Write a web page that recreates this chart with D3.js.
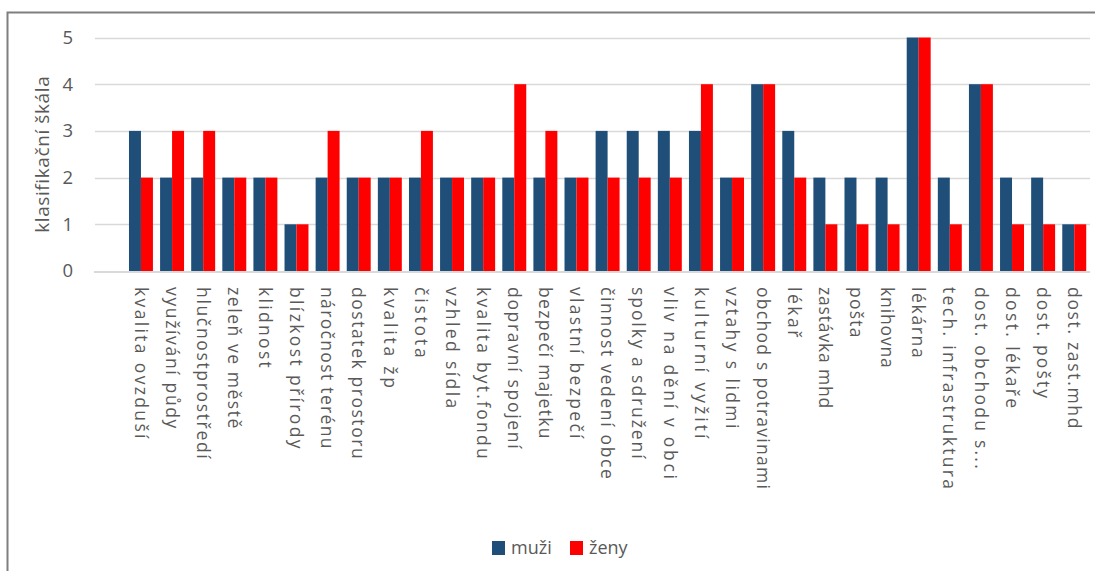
<!DOCTYPE html>
<html>
<head>
<meta charset="utf-8">
<script src="https://cdn.jsdelivr.net/npm/d3@7"></script>
<style>
  body { margin: 0; background: #fff; }
  svg { display: block; font-family: "Open Sans", "Noto Sans", sans-serif; }
</style>
</head>
<body>
<svg id="chart" width="1095" height="571"></svg>
<script>
// Hodnocení kvality prostředí – muži vs. ženy (klasifikační škála 1–5)
const categories = [
  "kvalita ovzduší", "využívání půdy", "hlučnostprostředí", "zeleň ve městě",
  "klidnost", "blízkost přírody", "náročnost terénu", "dostatek prostoru",
  "kvalita žp", "čistota", "vzhled sídla", "kvalita byt.fondu",
  "dopravní spojení", "bezpečí majetku", "vlastní bezpečí", "činnost vedení obce",
  "spolky a sdružení", "vliv na dění v obci", "kulturní vyžití", "vztahy s lidmi",
  "obchod s potravinami", "lékař", "zastávka mhd", "pošta", "knihovna",
  "lékárna", "tech. infrastruktura", "dost. obchodu s...", "dost. lékaře",
  "dost. pošty", "dost. zast.mhd"
];
const muzi = [3, 2, 2, 2, 2, 1, 2, 2, 2, 2, 2, 2, 2, 2, 2, 3, 3, 3, 3, 2, 4, 3, 2, 2, 2, 5, 2, 4, 2, 2, 1];
const zeny = [2, 3, 3, 2, 2, 1, 3, 2, 2, 3, 2, 2, 4, 3, 2, 2, 2, 2, 4, 2, 4, 2, 1, 1, 1, 5, 1, 4, 1, 1, 1];
const seriesNames = ["muži", "ženy"];
const yTicks = [0, 1, 2, 3, 4, 5];
const yTitle = "klasifikační škála";

const colors = { "muži": "#1f4e79", "ženy": "#ff0000" };
const textColor = "#595959";

const svg = d3.select("#chart");

// chart frame
svg.append("rect")
  .attr("x", 7.5).attr("y", 12.5)
  .attr("width", 1200).attr("height", 700)
  .attr("fill", "none").attr("stroke", "#7f7f7f").attr("stroke-width", 2);

const gridLeft = 95, gridRight = 1090;
const bandLeft = 125.4, bandRight = 1089.8;
const y0 = 271, yTop = 37.5;
const charPitch = 10.1; // even per-glyph advance used for the category labels

const y = d3.scaleLinear().domain([0, 5]).range([y0, yTop]);
const x = d3.scaleBand().domain(categories).range([bandLeft, bandRight])
  .paddingInner(0.23).paddingOuter(0.115);
const xs = d3.scaleBand().domain(seriesNames).range([0, x.bandwidth()]);

// gridlines
svg.append("g").selectAll("line")
  .data(yTicks.filter(t => t > 0))
  .join("line")
  .attr("x1", gridLeft).attr("x2", gridRight)
  .attr("y1", d => Math.round(y(d)) + 0.5).attr("y2", d => Math.round(y(d)) + 0.5)
  .attr("stroke", "#d9d9d9").attr("stroke-width", 1.3);

// y axis labels
const yAxis = d3.axisLeft(y).tickValues(yTicks).tickFormat(d3.format("d"))
  .tickSize(0).tickPadding(0);
const ya = svg.append("g").attr("transform", "translate(73,0)").call(yAxis);
ya.select(".domain").remove();
ya.selectAll("text")
  .attr("fill", textColor).style("font-size", "18.5px")
  .style("font-family", "'Open Sans', sans-serif");

// bars
const rows = categories.map((c, i) => ({ c, vals: [
  { s: "muži", v: muzi[i] }, { s: "ženy", v: zeny[i] }
]}));
const groups = svg.append("g").selectAll("g")
  .data(rows).join("g")
  .attr("transform", d => `translate(${x(d.c)},0)`);
groups.selectAll("rect")
  .data(d => d.vals).join("rect")
  .attr("x", d => xs(d.s))
  .attr("y", d => y(d.v))
  .attr("width", xs.bandwidth())
  .attr("height", d => y(0) - y(d.v))
  .attr("fill", d => colors[d.s]);

// category baseline
svg.append("line")
  .attr("x1", gridLeft - 1).attr("x2", gridRight)
  .attr("y1", y0 + 1).attr("y2", y0 + 1)
  .attr("stroke", "#d9d9d9").attr("stroke-width", 2);

// category labels (rotated, spread to an even glyph pitch)
const xAxis = d3.axisBottom(x).tickSize(0).tickPadding(0);
const xa = svg.append("g").attr("transform", `translate(0,${y0})`).call(xAxis);
xa.select(".domain").remove();
xa.selectAll("text")
  .attr("fill", textColor)
  .style("font-family", "'Open Sans', sans-serif")
  .style("font-size", "17.5px")
  .attr("text-anchor", "start")
  .attr("textLength", d => d.length * charPitch)
  .attr("lengthAdjust", "spacing")
  .attr("x", 0).attr("y", 0).attr("dy", "0.36em")
  .attr("transform", "translate(0,16) rotate(90)");

// y axis title
svg.append("text")
  .attr("transform", `translate(49,${(y0 + yTop) / 2}) rotate(-90)`)
  .attr("text-anchor", "middle")
  .attr("fill", textColor)
  .style("font-size", "19px")
  .style("letter-spacing", "0.6px")
  .text(yTitle);

// legend
const legend = svg.append("g").attr("transform", "translate(492,541)");
const li = legend.selectAll("g").data(seriesNames).join("g")
  .attr("transform", (d, i) => `translate(${i * 78},0)`);
li.append("rect").attr("width", 13).attr("height", 14).attr("fill", d => colors[d]);
li.append("text").attr("x", 19).attr("y", 13)
  .attr("fill", textColor).style("font-size", "18px").text(d => d);
</script>
</body>
</html>
